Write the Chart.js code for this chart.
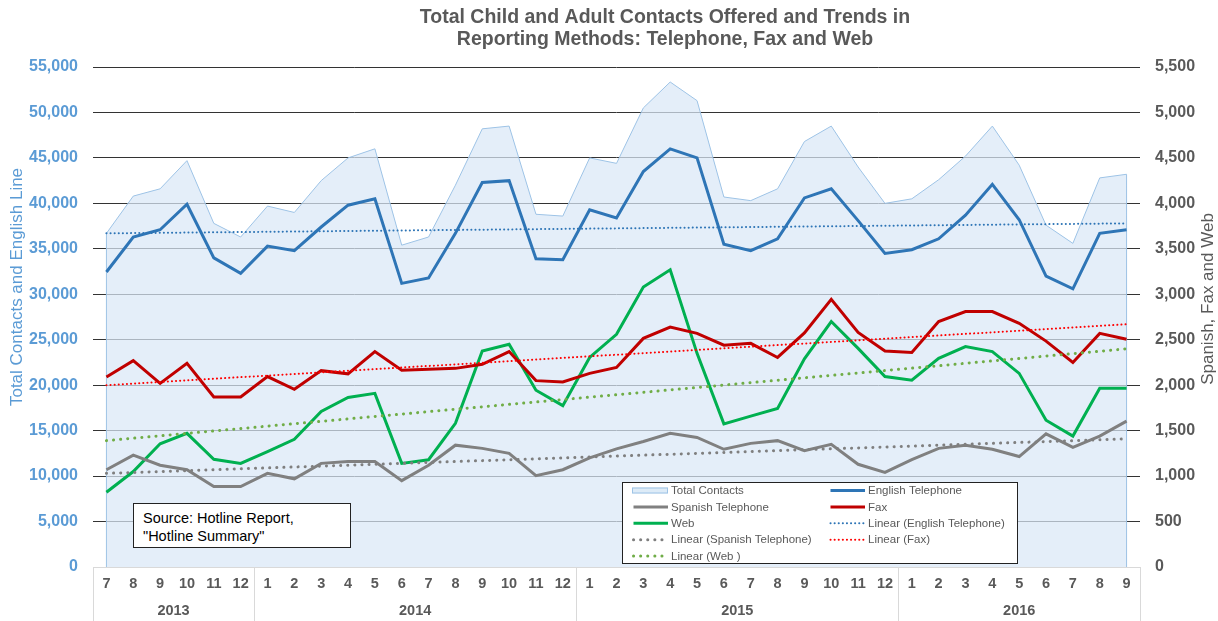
<!DOCTYPE html>
<html>
<head>
<meta charset="utf-8">
<title>Total Child and Adult Contacts</title>
<script src="https://cdn.jsdelivr.net/npm/chart.js@4.4.1/dist/chart.umd.min.js"></script>
<style>
  body { margin: 0; background: #fff; }
  .wrap { position: relative; width: 1218px; height: 621px; }
  .source {
    position: absolute; left: 133px; top: 503px; width: 218px; height: 45px;
    box-sizing: border-box; border: 1px solid #222; background: #fff;
    padding: 5px 0 0 9px; font: 14.5px "Liberation Sans", Arial, sans-serif;
    line-height: 18px; color: #000;
  }
</style>
</head>
<body>
<div class="wrap">
  <canvas id="chart"></canvas>
  <div class="source">Source: Hotline Report,<br>"Hotline Summary"</div>
</div>
<script>
// months from 7/2013 to 9/2016
const months = ['7','8','9','10','11','12',
  '1','2','3','4','5','6','7','8','9','10','11','12',
  '1','2','3','4','5','6','7','8','9','10','11','12',
  '1','2','3','4','5','6','7','8','9'];
const years = ['2013', '2014', '2015', '2016'];
const yearStart = [0, 6, 18, 30];

// left axis
const totalContacts = [36700, 40800, 41600, 44700, 37800, 36300,
  39700, 39000, 42500, 45000, 46000, 35400, 36300, 42000, 48200, 48500, 38800, 38600,
  45000, 44400, 50500, 53350, 51300, 40700, 40300, 41600, 46800, 48500, 44000, 40000,
  40500, 42600, 45200, 48500, 44200, 37600, 35600, 42800, 43200];
const englishPhone = [32450, 36300, 37100, 39900, 34000, 32300,
  35300, 34800, 37400, 39800, 40500, 31200, 31800, 36700, 42300, 42500, 33900, 33800,
  39300, 38400, 43500, 46000, 45000, 35500, 34800, 36100, 40600, 41600, 38100, 34500,
  34900, 36100, 38700, 42100, 38200, 32000, 30600, 36700, 37100];

// right axis
const spanishPhone = [1070, 1230, 1120, 1070, 885, 885,
  1030, 970, 1140, 1160, 1160, 950, 1120, 1340, 1305, 1250, 1005, 1070,
  1200, 1300, 1380, 1470, 1425, 1295, 1360, 1390, 1280, 1350, 1130, 1040,
  1180, 1305, 1340, 1295, 1215, 1465, 1315, 1440, 1605];
const fax = [2090, 2270, 2020, 2240, 1870, 1870,
  2095, 1955, 2160, 2125, 2370, 2165, 2175, 2185, 2230, 2370, 2050, 2035,
  2130, 2195, 2515, 2640, 2570, 2440, 2460, 2305, 2575, 2945, 2580, 2375,
  2360, 2700, 2810, 2810, 2680, 2485, 2250, 2570, 2505];
const web = [822, 1050, 1355, 1470, 1185, 1140,
  1270, 1405, 1710, 1865, 1910, 1140, 1180, 1580, 2375, 2450, 1945, 1775,
  2305, 2560, 3080, 3270, 2350, 1575, 1660, 1745, 2290, 2700, 2405, 2095,
  2055, 2295, 2425, 2370, 2130, 1615, 1440, 1965, 1965];

// trend lines: value at first and last month
const trendEnglish = [36700, 37800];
const trendSpanish = [1030, 1410];
const trendFax = [2000, 2670];
const trendWeb = [1390, 2400];

const leftTicks = { min: 0, max: 55000, step: 5000 };
const rightTicks = { min: 0, max: 5500, step: 500 };

const FONT = '"Liberation Sans", Arial, sans-serif';
Chart.defaults.font.family = FONT;

function trend(ends) {
  const arr = months.map(() => null);
  arr[0] = ends[0];
  arr[arr.length - 1] = ends[1];
  return arr;
}

function line(label, data, color, axis) {
  return { label, data, yAxisID: axis, borderColor: color, backgroundColor: color,
    borderWidth: 3, pointRadius: 0, tension: 0, fill: false, order: 1 };
}

function trendLine(label, ends, color, axis, width, dash) {
  return { label, data: trend(ends), yAxisID: axis, borderColor: color, backgroundColor: color,
    borderWidth: width, borderDash: dash, borderCapStyle: 'round', pointRadius: 0,
    spanGaps: true, fill: false, order: 0 };
}

const datasets = [
  { label: 'Total Contacts', data: totalContacts, yAxisID: 'y', borderColor: '#9DC3E6',
    backgroundColor: 'rgba(218,232,246,0.72)', borderWidth: 1, pointRadius: 0,
    fill: 'origin', order: 2 },
  line('English Telephone', englishPhone, '#2E75B6', 'y'),
  line('Spanish Telephone', spanishPhone, '#808080', 'y2'),
  line('Fax', fax, '#C00000', 'y2'),
  line('Web', web, '#00B050', 'y2'),
  trendLine('Linear (English Telephone)', trendEnglish, '#2E75B6', 'y', 2, [0.1, 4]),
  trendLine('Linear (Spanish Telephone)', trendSpanish, '#7F7F7F', 'y2', 3, [0.1, 7]),
  trendLine('Linear (Fax)', trendFax, '#FF0000', 'y2', 2, [0.1, 4]),
  trendLine('Linear (Web )', trendWeb, '#70AD47', 'y2', 3, [0.1, 7])
];

// title, axis titles, year row, area edges, legend
const extras = {
  id: 'extras',
  afterDatasetDraw(chart, args) {
    if (args.index !== 0) return;
    const ctx = chart.ctx, pts = args.meta.data, bottom = chart.chartArea.bottom;
    ctx.save();
    ctx.strokeStyle = '#9DC3E6';
    ctx.lineWidth = 1;
    ctx.beginPath();
    ctx.moveTo(pts[0].x, pts[0].y); ctx.lineTo(pts[0].x, bottom);
    const last = pts[pts.length - 1];
    ctx.moveTo(last.x, last.y); ctx.lineTo(last.x, bottom);
    ctx.stroke();
    ctx.restore();
  },
  afterDraw(chart) {
    const ctx = chart.ctx, area = chart.chartArea, xs = chart.scales.x;
    ctx.save();
    // title
    ctx.fillStyle = '#595959';
    ctx.font = 'bold 19.5px ' + FONT;
    ctx.textAlign = 'center';
    ctx.textBaseline = 'middle';
    ctx.fillText('Total Child and Adult Contacts Offered and Trends in', 665, 18);
    ctx.fillText('Reporting Methods: Telephone, Fax and Web', 665, 40);

    // axis titles
    ctx.font = '17px ' + FONT;
    ctx.save();
    ctx.translate(17, 287);
    ctx.rotate(-Math.PI / 2);
    ctx.fillStyle = '#5B9BD5';
    ctx.fillText('Total Contacts and English Line', 0, 0);
    ctx.restore();
    ctx.save();
    ctx.translate(1208, 299);
    ctx.rotate(-Math.PI / 2);
    ctx.fillStyle = '#595959';
    ctx.fillText('Spanish, Fax and Web', 0, 0);
    ctx.restore();

    // year separators and labels
    const half = (xs.getPixelForValue(1) - xs.getPixelForValue(0)) / 2;
    const edges = yearStart.map(i => xs.getPixelForValue(i) - half);
    edges.push(area.right);
    ctx.strokeStyle = '#D9D9D9';
    ctx.lineWidth = 1;
    ctx.beginPath();
    edges.forEach(x => { const px = Math.round(x) + 0.5; ctx.moveTo(px, area.bottom); ctx.lineTo(px, chart.height); });
    ctx.stroke();
    ctx.fillStyle = '#595959';
    ctx.font = 'bold 14.5px ' + FONT;
    years.forEach((y, i) => ctx.fillText(y, (edges[i] + edges[i + 1]) / 2, 611));

    // legend
    const box = { x: 622, y: 482, w: 395, h: 81 };
    ctx.fillStyle = '#fff';
    ctx.fillRect(box.x, box.y, box.w, box.h);
    ctx.strokeStyle = '#222';
    ctx.strokeRect(box.x + 0.5, box.y + 0.5, box.w, box.h);
    ctx.font = '11.5px ' + FONT;
    ctx.textAlign = 'left';
    chart.data.datasets.forEach((ds, i) => {
      const sx = box.x + 10 + (i % 2) * 197;
      const sy = box.y + 8.5 + Math.floor(i / 2) * 16.4;
      if (i === 0) {
        ctx.fillStyle = '#DDEBF7';
        ctx.fillRect(sx, sy - 3, 36, 6);
        ctx.strokeStyle = ds.borderColor;
        ctx.strokeRect(sx + 0.5, sy - 2.5, 35, 5);
      } else {
        ctx.strokeStyle = ds.borderColor;
        ctx.lineWidth = ds.borderDash ? ds.borderWidth : 3;
        ctx.lineCap = ds.borderDash ? 'round' : 'butt';
        ctx.setLineDash(ds.borderDash || []);
        ctx.beginPath();
        ctx.moveTo(sx + 1.5, sy); ctx.lineTo(sx + 36, sy);
        ctx.stroke();
        ctx.setLineDash([]);
        ctx.lineWidth = 1;
      }
      ctx.fillStyle = '#595959';
      ctx.fillText(ds.label, sx + 39, sy + 0.5);
    });
    ctx.restore();
  }
};

new Chart(document.getElementById('chart'), {
  type: 'line',
  data: { labels: months, datasets },
  plugins: [extras],
  options: {
    responsive: true,
    maintainAspectRatio: false,
    animation: false,
    layout: { padding: { top: 67 } },
    plugins: { legend: { display: false }, tooltip: { enabled: false } },
    scales: {
      x: {
        offset: true,
        grid: { display: false, drawTicks: false },
        border: { display: true, color: '#D9D9D9' },
        ticks: { autoSkip: false, maxRotation: 0, padding: 8, color: '#595959',
          font: { size: 14.5, weight: 'bold' } },
        afterFit(s) { s.height = 54; }
      },
      y: {
        position: 'left',
        min: leftTicks.min, max: leftTicks.max,
        grid: { drawTicks: false, color: c => c.tick.value === 0 ? 'rgba(0,0,0,0)' : '#333' },
        border: { display: false },
        ticks: { stepSize: leftTicks.step, padding: 15, color: '#5B9BD5',
          font: { size: 16, weight: 'bold' }, callback: v => v.toLocaleString('en-US') },
        afterFit(s) { s.width = 93; }
      },
      y2: {
        position: 'right',
        min: rightTicks.min, max: rightTicks.max,
        grid: { display: false, drawTicks: false },
        border: { display: false },
        ticks: { stepSize: rightTicks.step, padding: 15, color: '#595959',
          font: { size: 16, weight: 'bold' }, callback: v => v.toLocaleString('en-US') },
        afterFit(s) { s.width = 78; }
      }
    }
  }
});
</script>
</body>
</html>
